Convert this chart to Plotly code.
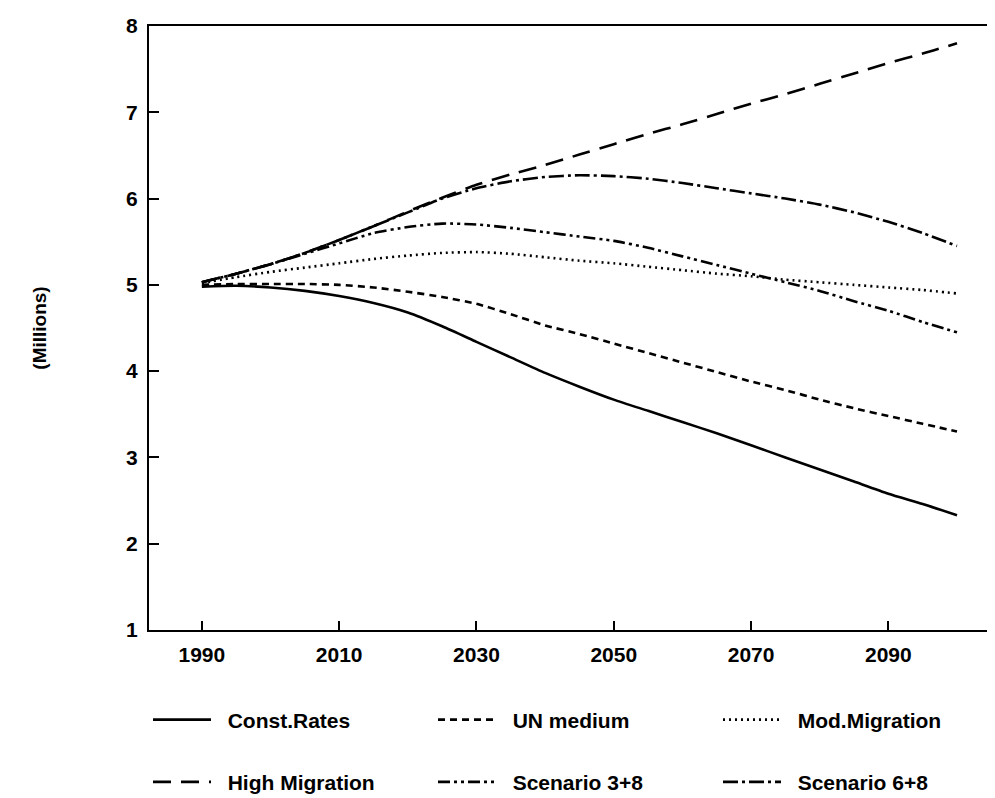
import plotly.graph_objects as go

years = list(range(1990, 2101, 5))

const_rates = [4.98, 4.99, 4.97, 4.93, 4.87, 4.79, 4.68, 4.52, 4.34, 4.16, 3.98, 3.82,
               3.67, 3.54, 3.41, 3.28, 3.14, 3.00, 2.86, 2.72, 2.58, 2.46, 2.33]
un_medium = [5.00, 5.01, 5.01, 5.01, 5.00, 4.97, 4.92, 4.86, 4.78, 4.66, 4.53, 4.43,
             4.32, 4.21, 4.10, 3.99, 3.88, 3.78, 3.67, 3.57, 3.48, 3.39, 3.30]
mod_migration = [5.02, 5.09, 5.15, 5.20, 5.25, 5.30, 5.34, 5.37, 5.38, 5.36, 5.32, 5.28,
                 5.25, 5.21, 5.17, 5.13, 5.10, 5.06, 5.03, 5.00, 4.97, 4.94, 4.90]
high_migration = [5.03, 5.13, 5.24, 5.37, 5.52, 5.68, 5.85, 6.01, 6.16, 6.28, 6.39, 6.51,
                  6.63, 6.75, 6.86, 6.98, 7.10, 7.21, 7.33, 7.45, 7.57, 7.68, 7.80]
scenario_3_8 = [5.03, 5.13, 5.24, 5.36, 5.48, 5.60, 5.67, 5.71, 5.70, 5.66, 5.61, 5.56,
                5.51, 5.43, 5.33, 5.23, 5.13, 5.03, 4.93, 4.81, 4.70, 4.57, 4.45]
scenario_6_8 = [5.03, 5.13, 5.24, 5.37, 5.52, 5.68, 5.84, 6.00, 6.12, 6.20, 6.25, 6.27,
                6.26, 6.23, 6.18, 6.12, 6.06, 6.00, 5.93, 5.84, 5.73, 5.60, 5.45]

x_ticks = [1990, 2010, 2030, 2050, 2070, 2090]
y_ticks = [1, 2, 3, 4, 5, 6, 7, 8]

series = [
    ("Const.Rates", const_rates, "solid", "legend"),
    ("UN medium", un_medium, "7px,5px", "legend"),
    ("Mod.Migration", mod_migration, "2px,4px", "legend"),
    ("High Migration", high_migration, "18px,10px", "legend2"),
    ("Scenario 3+8", scenario_3_8, "12px,4px,3px,4px,3px,4px", "legend2"),
    ("Scenario 6+8", scenario_6_8, "15px,4px,3px,4px", "legend2"),
]

FONT = "Liberation Sans"
PAD = "\u00a0\u00a0"

fig = go.Figure()
for name, vals, dash, leg in series:
    fig.add_trace(go.Scatter(
        x=years, y=vals, mode="lines", name=PAD + name, legend=leg,
        line=dict(color="black", width=2.6, dash=dash, shape="spline", smoothing=0.6),
    ))

legend_common = dict(
    orientation="h", x=0.0, xanchor="left", yanchor="middle",
    entrywidth=212, entrywidthmode="pixels", itemwidth=58,
    font=dict(family=FONT, size=21, color="black", weight="bold"),
    bgcolor="rgba(0,0,0,0)", traceorder="normal",
)

fig.update_layout(
    width=995, height=798,
    margin=dict(l=141, r=0, t=18, b=176),
    paper_bgcolor="white", plot_bgcolor="white",
    font=dict(family=FONT, size=20, color="black", weight="bold"),
    showlegend=True,
    legend=dict(y=-0.149, **legend_common),
    legend2=dict(y=-0.252, **legend_common),
    xaxis=dict(
        range=[1982.3, 2106.7], tickvals=x_ticks, ticktext=[str(v) for v in x_ticks],
        showgrid=False, zeroline=False, showline=True, linecolor="black", linewidth=2,
        mirror=True, ticks="inside", ticklen=9, tickwidth=1.5, tickcolor="black",
        ticklabelstandoff=5,
        tickfont=dict(family=FONT, size=21, color="black", weight="bold"),
    ),
    yaxis=dict(
        range=[1, 8], tickvals=y_ticks, ticktext=[str(v) for v in y_ticks],
        showgrid=False, zeroline=False, showline=True, linecolor="black", linewidth=2,
        mirror=False, ticks="inside", ticklen=10, tickwidth=1.5, tickcolor="black",
        ticklabelstandoff=5,
        tickfont=dict(family=FONT, size=21, color="black", weight="bold"),
        title=dict(text="(Millions)", standoff=74,
                   font=dict(family=FONT, size=19, color="black", weight="bold")),
    ),
)

fig.write_html("out.html")
